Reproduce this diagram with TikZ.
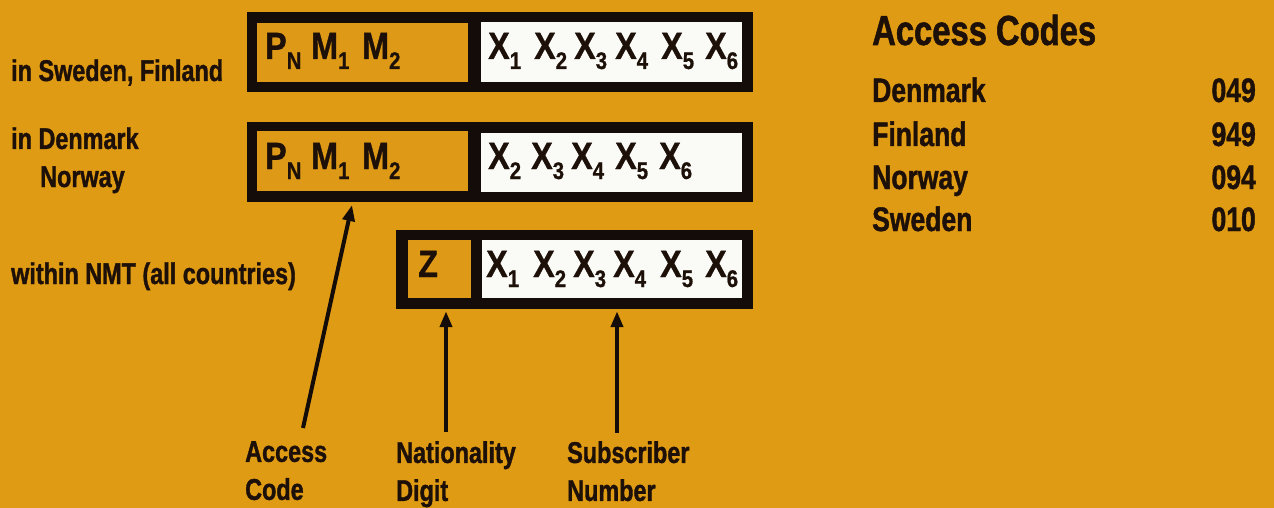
\documentclass[tikz,border=0pt]{standalone}
\usepackage{fontspec}
\setmainfont{Liberation Sans}[FakeStretch=0.78, BoldFeatures={FakeBold=1.2}]
\newfontfamily\boxfont{Liberation Sans}[FakeStretch=0.85, BoldFeatures={FakeBold=0.8}]
\usetikzlibrary{arrows.meta}
\definecolor{bg}{RGB}{224,155,20}
\definecolor{inner}{RGB}{222,153,22}
\definecolor{paper}{RGB}{250,250,247}
\definecolor{ink}{RGB}{20,12,8}
\definecolor{txt}{RGB}{28,16,8}
\newcommand{\Sb}[2]{#1\raisebox{-10pt}{\fontsize{24}{24}\selectfont #2}}
\tikzset{
  frame/.style={fill=ink, draw=none, inner sep=0pt},
  orangecell/.style={fill=inner, draw=none, inner sep=0pt},
  whitecell/.style={fill=paper, draw=none, inner sep=0pt},
  boxtxt/.style={anchor=base west, inner sep=0pt, text=txt, font=\boxfont\bfseries\fontsize{38}{38}\selectfont},
  lab/.style={anchor=base west, inner sep=0pt, text=txt, font=\bfseries\fontsize{30}{38}\selectfont},
  botlab/.style={anchor=north west, inner sep=0pt, align=left, text=txt, font=\bfseries\fontsize{30}{38}\selectfont},
  tabtxt/.style={inner sep=0pt, text=txt, font=\bfseries\fontsize{34}{34}\selectfont},
  arr/.style={draw=ink, line width=4pt, -{Triangle[length=16pt,width=12pt]}}
}
\begin{document}
\begin{tikzpicture}[x=1pt,y=-1pt]
\fill[bg] (0,0) rectangle (1274,508);
\useasboundingbox (0,0) rectangle (1274,508);

% box 1
\node[frame, minimum width=506pt, minimum height=80pt] (b1) at (500,52) {};
\node[orangecell, minimum width=211pt, minimum height=59pt] (o1) at (362.5,52.5) {};
\node[whitecell, minimum width=261pt, minimum height=60pt] (w1) at (611.5,52) {};
% box 2
\node[frame, minimum width=506pt, minimum height=80pt] (b2) at (500,162) {};
\node[orangecell, minimum width=211pt, minimum height=60pt] (o2) at (362.5,161) {};
\node[whitecell, minimum width=261pt, minimum height=59pt] (w2) at (611.5,162.5) {};
% box 3
\node[frame, minimum width=357pt, minimum height=79pt] (b3) at (574.5,269.5) {};
\node[orangecell, minimum width=63pt, minimum height=58pt] (o3) at (439.5,269) {};
\node[whitecell, minimum width=260pt, minimum height=58pt] (w3) at (612,269) {};

% box texts
\node[boxtxt] (p1) at (265,59) {\Sb{P}{N}};
\node[boxtxt] (m11) at (311,59) {\Sb{M}{1}};
\node[boxtxt] (m12) at (362,59) {\Sb{M}{2}};
\foreach \xx/\i in {488/1,534/2,574/3,615/4,661/5,705/6}
  \node[boxtxt] (xa\i) at (\xx,59) {\Sb{X}{\i}};

\node[boxtxt] (p2) at (265,169) {\Sb{P}{N}};
\node[boxtxt] (m21) at (311,169) {\Sb{M}{1}};
\node[boxtxt] (m22) at (362,169) {\Sb{M}{2}};
\foreach \xx/\i in {488/2,531/3,571/4,615/5,659/6}
  \node[boxtxt] (xb\i) at (\xx,169) {\Sb{X}{\i}};

\node[boxtxt] (z) at (418,277) {Z};
\foreach \xx/\i in {486/1,533/2,573/3,613/4,660/5,705/6}
  \node[boxtxt] (xc\i) at (\xx,277) {\Sb{X}{\i}};

% left labels
\node[lab] (l1) at (11,81) {in Sweden, Finland};
\node[lab] (l2) at (11,149) {in Denmark};
\node[lab] (l3) at (40,187) {Norway};
\node[lab] (l4) at (11,284) {within NMT (all countries)};

% bottom labels
\node[botlab] (acc) at (245,441) {Access\\Code};
\node[botlab] (nat) at (396,441) {Nationality\\Digit};
\node[botlab] (sub) at (567,441) {Subscriber\\Number};

% arrows
\coordinate (accTail) at (303,428);
\coordinate (accTip) at (352,205);
\coordinate (natTail) at (446,432);
\coordinate (subTail) at (617,433);
\draw[arr] (accTail) -- (accTip);
\draw[arr] (natTail) -- ([yshift=-2pt]natTail |- b3.south);
\draw[arr] (subTail) -- ([yshift=-2pt]subTail |- b3.south);

% access code table
\node[anchor=base west, inner sep=0pt, text=txt, font=\bfseries\fontsize{42}{42}\selectfont] (title) at (872,45) {Access Codes};
\foreach \n/\c/\yy in {Denmark/049/102, Finland/949/146, Norway/094/189, Sweden/010/231}{
  \node[tabtxt, anchor=base west] (c-\n) at (872,\yy) {\n};
  \node[tabtxt, anchor=base east] (v-\n) at (1256,\yy) {\c};
}
\end{tikzpicture}
\end{document}
